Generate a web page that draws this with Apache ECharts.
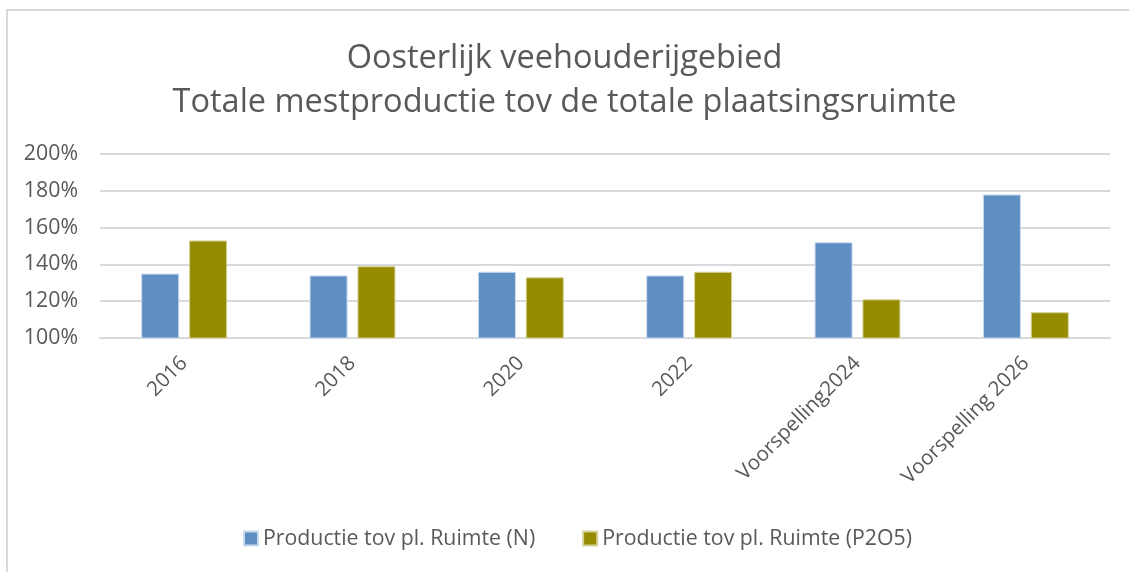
<!DOCTYPE html>
<html><head><meta charset="utf-8">
<script src="https://cdn.jsdelivr.net/npm/echarts@6/dist/echarts.min.js"></script>
<style>html,body{margin:0;padding:0;background:#fff}#c{width:1129px;height:572px}</style>
</head><body><div id="c"></div>
<script>
const categories = ['2016','2018','2020','2022','Voorspelling2024','Voorspelling 2026'];
const seriesN = [1.35,1.34,1.36,1.34,1.52,1.78];
const seriesP = [1.53,1.39,1.33,1.36,1.21,1.14];
const seriesNames = ['Productie tov pl. Ruimte (N)','Productie tov pl. Ruimte (P2O5)'];
const titleLines = ['Oosterlijk veehouderijgebied','Totale mestproductie tov de totale plaatsingsruimte'];
const FONT = "'Open Sans', 'Noto Sans', sans-serif";
const chart = echarts.init(document.getElementById('c'), null, {renderer:'canvas'});
chart.setOption({
  animation:false,
  backgroundColor:'#fff',
  graphic:[{type:'rect',shape:{x:7,y:10,width:1140,height:600},style:{fill:'none',stroke:'#D9D9D9',lineWidth:2}}],
  title:{text:titleLines.join('\n'),left:'center',top:32,textStyle:{color:'#595959',fontFamily:FONT,fontWeight:'normal',fontSize:32.5,lineHeight:44}},
  legend:{bottom:18,left:238,itemWidth:14,itemHeight:14,itemGap:47,icon:'rect',
    textStyle:{color:'#595959',fontFamily:FONT,fontSize:21.3}},
  grid:{left:100,right:19,top:154,bottom:234,containLabel:false},
  xAxis:{type:'category',data:categories,
    axisLine:{lineStyle:{color:'#D9D9D9',width:2}},axisTick:{show:false},
    axisLabel:{rotate:45,color:'#595959',fontFamily:FONT,fontSize:20.5,margin:22}},
  yAxis:{type:'value',min:1,max:2,interval:0.2,
    axisLine:{show:false},axisTick:{show:false},
    splitLine:{lineStyle:{color:'#D9D9D9',width:2}},
    axisLabel:{color:'#595959',fontFamily:FONT,fontSize:21.3,margin:22,formatter:v=>Math.round(v*100)+'%'}},
  series:[
    {name:seriesNames[0],type:'bar',data:seriesN,barWidth:38,barGap:'26%',itemStyle:{color:'#5F8EC3',borderColor:'#C9D9EE',borderWidth:1}},
    {name:seriesNames[1],type:'bar',data:seriesP,barWidth:38,barGap:'26%',itemStyle:{color:'#948B00',borderColor:'#D6D199',borderWidth:1}}
  ]
});
</script></body></html>
